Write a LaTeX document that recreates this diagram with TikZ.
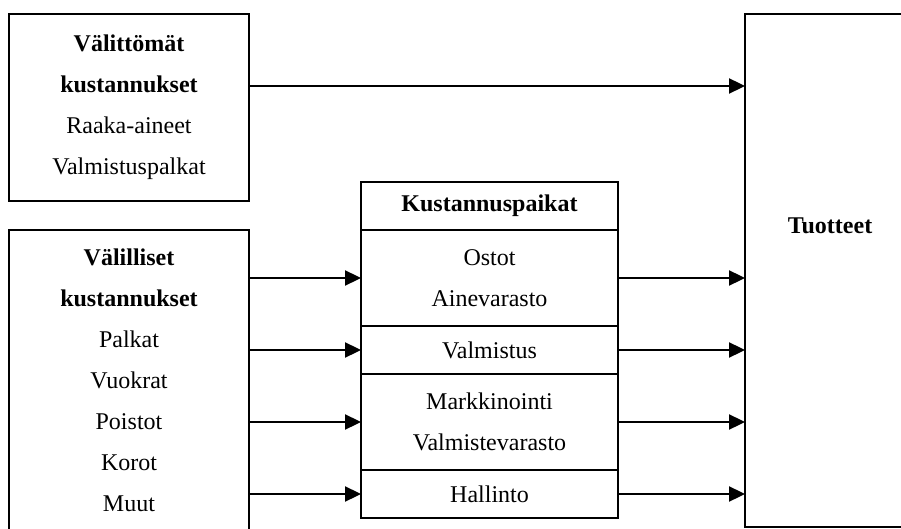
\documentclass[tikz,border=0pt]{standalone}
\usepackage{fontspec}
\setmainfont{Liberation Serif}
\usetikzlibrary{positioning,arrows.meta}

\begin{document}
\begin{tikzpicture}[x=1pt,y=1pt,
	laatikko/.style={rectangle,draw,line width=1.3pt,outer sep=0pt,align=center,font=\fontsize{24}{41}\selectfont},
	osa/.style={laatikko,minimum width=257pt,minimum height=48pt,inner sep=0pt},
	nuoli/.style={draw,line width=2.3pt,-{Triangle[length=16pt,width=15pt]}},
]
\useasboundingbox (0,0) rectangle (901,528);
\clip (0,0) rectangle (901,528);
\node[laatikko,minimum width=240pt,minimum height=187pt] (valittomat) at (129,420.5) {\textbf{Välittömät}\\\textbf{kustannukset}\\Raaka-aineet\\Valmistuspalkat};
\node[laatikko,minimum width=240pt,minimum height=300pt] (valilliset) at (129,148) {\textbf{Välilliset}\\\textbf{kustannukset}\\Palkat\\Vuokrat\\Poistot\\Korot\\Muut};
\node[osa] (otsikko) at (489.5,322) {\textbf{Kustannuspaikat}};
\node[osa,minimum height=96pt,below=0pt of otsikko] (ostot) {Ostot\\Ainevarasto};
\node[osa,below=0pt of ostot] (valmistus) {Valmistus};
\node[osa,minimum height=96pt,below=0pt of valmistus] (markkinointi) {Markkinointi\\Valmistevarasto};
\node[osa,below=0pt of markkinointi] (hallinto) {Hallinto};
\node[laatikko,minimum width=170pt,minimum height=513pt,
	label={[font=\fontsize{24}{41}\selectfont\bfseries,yshift=44.5pt]center:Tuotteet}] (tuotteet) at (830,257.5) {};

\coordinate (alku) at ([yshift=21.5pt]valittomat.east);
\draw[nuoli] (alku) -- (alku -| tuotteet.west);
\draw[nuoli] (ostot.west -| valilliset.east) -- (ostot.west);
\draw[nuoli] (valmistus.west -| valilliset.east) -- (valmistus.west);
\draw[nuoli] (markkinointi.west -| valilliset.east) -- (markkinointi.west);
\draw[nuoli] (hallinto.west -| valilliset.east) -- (hallinto.west);
\draw[nuoli] (ostot.east) -- (ostot.east -| tuotteet.west);
\draw[nuoli] (valmistus.east) -- (valmistus.east -| tuotteet.west);
\draw[nuoli] (markkinointi.east) -- (markkinointi.east -| tuotteet.west);
\draw[nuoli] (hallinto.east) -- (hallinto.east -| tuotteet.west);

\end{tikzpicture}
\end{document}
